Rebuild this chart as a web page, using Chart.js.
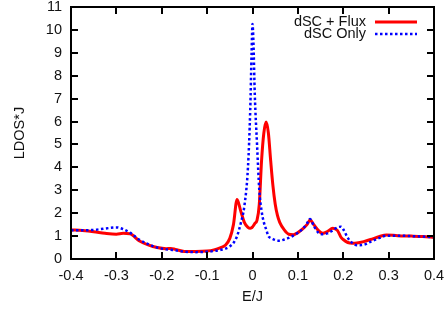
<!DOCTYPE html>
<html>
<head>
<meta charset="utf-8">
<script src="https://cdn.jsdelivr.net/npm/chart.js@4/dist/chart.umd.min.js"></script>
<style>
  html, body { margin: 0; padding: 0; background: #fff; }
  #wrap { width: 445px; height: 310px; }
</style>
</head>
<body>
<div id="wrap"><canvas id="ldosChart" width="445" height="310"></canvas></div>
<script>
// energy grid (E/J), shared by both curves
const energies = [
  -0.4, -0.375, -0.35, -0.325, -0.3, -0.285, -0.27, -0.25, -0.23, -0.21,
  -0.19, -0.18, -0.17, -0.15, -0.125, -0.1, -0.085, -0.07, -0.06, -0.05,
  -0.042, -0.034, -0.026, -0.018, -0.01, -0.005, -0.002, 0, 0.002, 0.005,
  0.01, 0.015, 0.02, 0.025, 0.03, 0.035, 0.04, 0.045, 0.05, 0.055,
  0.06, 0.07, 0.08, 0.09, 0.1, 0.11, 0.12, 0.127, 0.135, 0.145,
  0.155, 0.165, 0.177, 0.187, 0.195, 0.2, 0.21, 0.22, 0.23, 0.245,
  0.26, 0.28, 0.295, 0.32, 0.35, 0.375, 0.4
];

// LDOS*J with flux (red solid)
const fluxValues = [
  1.27, 1.24, 1.19, 1.12, 1.08, 1.12, 1.1, 0.8, 0.62, 0.5,
  0.45, 0.46, 0.42, 0.33, 0.33, 0.35, 0.4, 0.5, 0.6, 0.9,
  1.5, 2.6, 2.1, 1.6, 1.38, 1.34, 1.36, 1.4, 1.45, 1.55,
  1.7, 2.4, 4.3, 5.5, 5.98, 5.5, 4.3, 3.2, 2.4, 1.9,
  1.6, 1.27, 1.08, 1.06, 1.15, 1.3, 1.5, 1.7, 1.5, 1.25,
  1.12, 1.2, 1.34, 1.25, 0.95, 0.85, 0.72, 0.69, 0.7, 0.76,
  0.85, 0.98, 1.05, 1.02, 1.0, 0.98, 0.95
];

// LDOS*J dSC only (blue dotted)
const onlyValues = [
  1.25, 1.25, 1.27, 1.33, 1.38, 1.3, 1.15, 0.85, 0.65, 0.5,
  0.42, 0.4, 0.38, 0.32, 0.3, 0.32, 0.35, 0.4, 0.45, 0.55,
  0.7, 1.0, 1.55, 2.3, 4.0, 6.5, 9.0, 10.26, 9.5, 7.2,
  5.0, 3.0, 2.1, 1.6, 1.3, 1.0, 0.92, 0.87, 0.83, 0.8,
  0.8, 0.85, 0.92, 1.02, 1.15, 1.3, 1.55, 1.75, 1.45, 1.15,
  1.08, 1.12, 1.25, 1.38, 1.41, 1.3, 0.92, 0.7, 0.6, 0.62,
  0.75, 0.92, 1.02, 1.02, 1.0, 0.98, 0.95
];

const seriesNames = ["dSC + Flux", "dSC Only"];
const xTicks = [-0.4, -0.3, -0.2, -0.1, 0, 0.1, 0.2, 0.3, 0.4];
const yTicks = [0, 1, 2, 3, 4, 5, 6, 7, 8, 9, 10, 11];

const FONT = "'Liberation Sans', Arial, sans-serif";
const FSIZE = 14.5;
const RED = "#ff0000";
const BLUE = "#0000ff";

function toPoints(vals) {
  return energies.map((e, i) => ({ x: e, y: vals[i] }));
}

// gnuplot-like frame: border, inward ticks on all sides, legend in the corner
const framePlugin = {
  id: "frame",
  afterDraw(chart) {
    const ctx = chart.ctx;
    const a = chart.chartArea;
    const xs = chart.scales.x;
    const ys = chart.scales.y;
    const tl = 7;
    ctx.save();
    ctx.setLineDash([]);
    ctx.strokeStyle = "#000";
    ctx.lineWidth = 2;
    ctx.strokeRect(a.left, a.top, a.right - a.left, a.bottom - a.top);
    ctx.lineWidth = 2;
    ctx.beginPath();
    for (let i = 0; i < xTicks.length; i++) {
      const px = Math.round(a.left + (xTicks[i] - xs.min) / (xs.max - xs.min) * (a.right - a.left));
      ctx.moveTo(px, a.bottom);
      ctx.lineTo(px, a.bottom - tl);
      ctx.moveTo(px, a.top);
      ctx.lineTo(px, a.top + tl);
    }
    for (let i = 0; i < yTicks.length; i++) {
      const py = Math.round(a.bottom - (yTicks[i] - ys.min) / (ys.max - ys.min) * (a.bottom - a.top));
      ctx.moveTo(a.left, py);
      ctx.lineTo(a.left + tl, py);
      ctx.moveTo(a.right, py);
      ctx.lineTo(a.right - tl, py);
    }
    ctx.stroke();

    // legend
    ctx.font = FSIZE + "px " + FONT;
    ctx.textAlign = "right";
    ctx.textBaseline = "middle";
    const rows = [
      { name: seriesNames[0], color: RED, dash: [], y: 22 },
      { name: seriesNames[1], color: BLUE, dash: [2.5, 2.5], y: 34 }
    ];
    rows.forEach(r => {
      ctx.fillStyle = "#111";
      ctx.fillText(r.name, 366, r.y);
      ctx.beginPath();
      ctx.setLineDash(r.dash);
      ctx.strokeStyle = r.color;
      ctx.lineWidth = r.dash.length ? 2.5 : 3;
      ctx.moveTo(375, r.y);
      ctx.lineTo(417, r.y);
      ctx.stroke();
    });
    ctx.restore();
  }
};

new Chart(document.getElementById("ldosChart").getContext("2d"), {
  type: "line",
  data: {
    datasets: [
      {
        label: seriesNames[1],
        data: toPoints(onlyValues),
        borderColor: BLUE,
        borderWidth: 2.5,
        borderDash: [2.5, 2.5],
        pointRadius: 0,
        cubicInterpolationMode: "monotone",
        fill: false
      },
      {
        label: seriesNames[0],
        data: toPoints(fluxValues),
        borderColor: RED,
        borderWidth: 3,
        pointRadius: 0,
        cubicInterpolationMode: "monotone",
        fill: false
      }
    ]
  },
  options: {
    responsive: false,
    animation: false,
    layout: { padding: { left: 0, right: 11, top: 7, bottom: 0 } },
    plugins: {
      legend: { display: false },
      tooltip: { enabled: false }
    },
    scales: {
      x: {
        type: "linear",
        min: -0.4,
        max: 0.4,
        afterBuildTicks: s => { s.ticks = xTicks.map(v => ({ value: v })); },
        afterFit: s => { s.height = 51; s.paddingLeft = 0; s.paddingRight = 0; },
        grid: { display: false, drawTicks: false },
        border: { display: false },
        ticks: {
          padding: 8,
          color: "#111",
          font: { family: FONT, size: FSIZE },
          maxRotation: 0,
          callback: v => (Math.round(v * 10) / 10).toString()
        },
        title: {
          display: true,
          text: "E/J",
          color: "#111",
          font: { family: FONT, size: FSIZE },
          padding: { top: 0, bottom: 4.6 }
        }
      },
      y: {
        min: 0,
        max: 11,
        afterBuildTicks: s => { s.ticks = yTicks.map(v => ({ value: v })); },
        afterFit: s => { s.width = 71; s.paddingTop = 0; s.paddingBottom = 0; },
        grid: { display: false, drawTicks: false },
        border: { display: false },
        ticks: {
          padding: 9,
          color: "#111",
          font: { family: FONT, size: FSIZE }
        },
        title: {
          display: true,
          text: "LDOS*J",
          color: "#111",
          font: { family: FONT, size: FSIZE },
          padding: { top: 11.6, bottom: 0 }
        }
      }
    }
  },
  plugins: [framePlugin]
});
</script>
</body>
</html>
